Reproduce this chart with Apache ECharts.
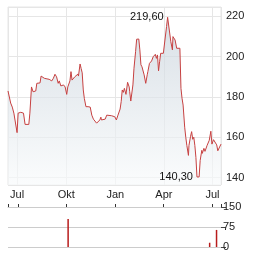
<!DOCTYPE html>
<html><head><meta charset="utf-8">
<script src="https://cdn.jsdelivr.net/npm/echarts@6/dist/echarts.min.js"></script>
<style>html,body{margin:0;padding:0;background:#fff}#c{width:264px;height:255px}</style>
</head><body><div id="c"></div>
<script>
const dates = ['2023-06-14','2023-06-19','2023-06-22','2023-06-25','2023-06-28','2023-07-01','2023-07-03','2023-07-08','2023-07-13','2023-07-16','2023-07-23','2023-07-25','2023-07-26','2023-07-28','2023-07-31','2023-08-05','2023-08-07','2023-08-10','2023-08-13','2023-08-15','2023-08-18','2023-08-21','2023-08-26','2023-08-30','2023-09-04','2023-09-07','2023-09-10','2023-09-13','2023-09-16','2023-09-18','2023-09-21','2023-09-26','2023-09-29','2023-10-01','2023-10-02','2023-10-04','2023-10-08','2023-10-10','2023-10-12','2023-10-14','2023-10-17','2023-10-23','2023-10-24','2023-10-27','2023-10-29','2023-10-31','2023-11-02','2023-11-04','2023-11-07','2023-11-11','2023-11-15','2023-11-18','2023-11-21','2023-11-24','2023-11-27','2023-11-30','2023-12-03','2023-12-05','2023-12-06','2023-12-13','2023-12-16','2023-12-19','2023-12-25','2023-12-31','2024-01-03','2024-01-06','2024-01-10','2024-01-12','2024-01-14','2024-01-16','2024-01-18','2024-01-21','2024-01-24','2024-01-27','2024-01-28','2024-01-30','2024-02-03','2024-02-05','2024-02-08','2024-02-10','2024-02-14','2024-02-16','2024-02-18','2024-02-20','2024-02-24','2024-02-27','2024-03-01','2024-03-02','2024-03-05','2024-03-09','2024-03-12','2024-03-14','2024-03-16','2024-03-18','2024-03-20','2024-03-22','2024-03-24','2024-03-26','2024-03-31','2024-04-03','2024-04-06','2024-04-08','2024-04-11','2024-04-14','2024-04-17','2024-04-18','2024-04-22','2024-04-25','2024-05-01','2024-05-03','2024-05-05','2024-05-07','2024-05-10','2024-05-12','2024-05-14','2024-05-17','2024-05-18','2024-05-21','2024-05-23','2024-05-25','2024-05-27','2024-05-29','2024-05-31','2024-06-02','2024-06-06','2024-06-08','2024-06-11','2024-06-12','2024-06-15','2024-06-17','2024-06-21','2024-06-22','2024-06-25','2024-06-28','2024-06-30','2024-07-03','2024-07-06','2024-07-09','2024-07-11','2024-07-14','2024-07-17'];
const prices = [183,177,175,172,171.5,162.3,172,172.4,172,166.4,166.4,172,172,185,182.6,183,186.8,186.5,187,190.4,190.6,189.3,189,188.8,188,189.3,191.3,190,186.8,188,185.5,186,185,185.5,181.3,185,188,192.6,188.4,189.3,190,191.4,190.4,196.4,194.2,192,183.5,179.3,175.2,175.2,175,171,169,169,167,167,168.6,170,168.6,169,171,171,170.7,170.2,168.6,171,174,177.7,183.5,182.3,184.3,181.3,187.3,185,182.6,178,186,194.3,202.5,208.7,208.8,203.4,196,195,191,186.8,191.3,192.6,196.7,197.9,200,199.5,201.2,199.2,200.9,193,197.5,201.7,201.7,201.7,215,219.6,219.4,207.5,203.4,210,208.3,204.2,204.2,184.3,179.4,176,165,160,156,151,156,160.5,162.8,159,160,156,150,140.3,140.3,148.5,153.5,152,154.5,153,156,155.5,158.5,163,156.6,158.8,158.5,156.2,153.3,152.8,156.6];
const volDates = ['2023-10-04','2024-06-27','2024-07-10'];
const volValues = [105,16,64];
const priceTicks = [140,160,180,200,220];
const volTicks = [0,75,150];
const monthNames = {0:'Jan',3:'Apr',6:'Jul',9:'Okt'};

const fmt = v => v.toFixed(2).replace('.', ',');
const font = 'Liberation Sans, Arial, sans-serif';
const chart = echarts.init(document.getElementById('c'), null, {renderer:'canvas'});
const xMin = '2023-06-14', xMax = '2024-07-17';
chart.setOption({
  animation:false,
  grid:[
    {left:8, top:7, width:213, height:178, show:true, borderColor:'#e6e6e6', borderWidth:1, backgroundColor:'transparent', outerBoundsMode:'none', containLabel:false},
    {left:8, top:207, width:213, height:40, outerBoundsMode:'none', containLabel:false}
  ],
  xAxis:[
    {type:'time', gridIndex:0, min:xMin, max:xMax, splitNumber:4,
     axisLine:{show:false}, axisTick:{show:false},
     splitLine:{show:true, lineStyle:{color:'#e6e6e6', width:1}},
     axisLabel:{margin:4, color:'#222', fontSize:11, fontFamily:font,
       formatter:v=>monthNames[new Date(v).getMonth()] || ''}},
    {type:'time', gridIndex:1, min:xMin, max:xMax, splitNumber:4, position:'top',
     axisLine:{show:true, onZero:false, lineStyle:{color:'#cccccc'}},
     axisTick:{show:true, length:3, lineStyle:{color:'#333'}},
     splitLine:{show:false}, axisLabel:{show:false}}
  ],
  yAxis:[
    {type:'value', gridIndex:0, position:'right', min:136.3, max:224.7, splitNumber:4,
     axisLine:{show:false}, axisTick:{show:false},
     splitLine:{show:true, lineStyle:{color:'#e6e6e6'}},
     axisLabel:{margin:5, color:'#222', fontSize:11, fontFamily:font, showMinLabel:false, showMaxLabel:false,
       formatter:v=>priceTicks.includes(v)?String(v):''}},
    {type:'value', gridIndex:1, position:'right', min:volTicks[0], max:volTicks[2], interval:75,
     axisLine:{show:false}, axisTick:{show:true, length:5, lineStyle:{color:'#444'}},
     splitLine:{show:true, lineStyle:{color:'#cccccc'}},
     axisLabel:{margin:2, color:'#222', fontSize:11, fontFamily:font}}
  ],
  series:[
    {type:'line', xAxisIndex:0, yAxisIndex:0, data:dates.map((d,i)=>[d,prices[i]]),
     symbol:'none', lineStyle:{color:'#c64040', width:1},
     areaStyle:{color:new echarts.graphic.LinearGradient(0,0,0,1,[{offset:0,color:'#c8d2db'},{offset:1,color:'#f8fafb'}])},
     markPoint:{symbol:'circle', symbolSize:0,
       label:{show:true, position:'left', distance:4, color:'#111', fontSize:11, fontFamily:font,
         formatter:p=>fmt(p.value)},
       data:[{type:'max'},{type:'min'}]}},
    {type:'bar', xAxisIndex:1, yAxisIndex:1, data:volDates.map((d,i)=>[d,volValues[i]]),
     barWidth:1.5, itemStyle:{color:'#b81c1c'}}
  ]
});
</script></body></html>
